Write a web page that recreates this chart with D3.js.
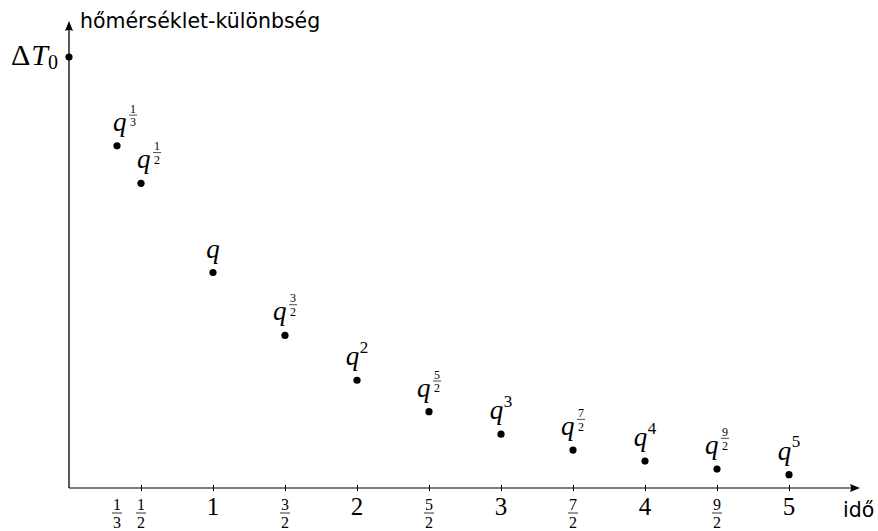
<!DOCTYPE html>
<html>
<head>
<meta charset="utf-8">
<script src="https://cdn.jsdelivr.net/npm/d3@7"></script>
<style>
  html, body { margin: 0; padding: 0; background: #fff; }
  svg { display: block; }
</style>
</head>
<body>
<svg id="chart" width="878" height="531"></svg>
<script>
// Temperature difference after each elapsed time, relative to the initial difference ΔT0
const times  = [0, 1/3, 1/2, 1, 3/2, 2, 5/2, 3, 7/2, 4, 9/2, 5];
const values = [1, 0.794, 0.707, 0.5, 0.354, 0.25, 0.177, 0.125, 0.088, 0.0625, 0.044, 0.031];
// Exponent of q written above each point ("" = plain q, null = no label)
const exponents = [null, "1/3", "1/2", "", "3/2", "2", "5/2", "3", "7/2", "4", "9/2", "5"];
// Tick marks on the time axis, and the labels written under it
const tickMarks       = [1/2, 1, 3/2, 2, 5/2, 3, 7/2, 4, 9/2, 5];
const tickLabelValues = [1/3, 1/2, 1, 3/2, 2, 5/2, 3, 7/2, 4, 9/2, 5];
const tickLabels      = ["1/3", "1/2", "1", "3/2", "2", "5/2", "3", "7/2", "4", "9/2", "5"];
const yTitle = "hőmérséklet-különbség";
const xTitle = "idő";

const SERIF = "'Liberation Serif', 'DejaVu Serif', serif";
const SANS  = "'DejaVu Sans', 'Liberation Sans', sans-serif";

const svg = d3.select("#chart");

const x = d3.scaleLinear().domain([0, 5]).range([69, 789]);
const y = d3.scaleLinear().domain([0, 1]).range([488, 57]);

const x0 = x(0), yBase = y(0);

// --- axes with arrow tips ---
const axes = svg.append("g");
axes.append("line")
  .attr("x1", x0).attr("y1", yBase).attr("x2", 853).attr("y2", yBase)
  .attr("stroke", "#000").attr("stroke-width", 1.1);
axes.append("line")
  .attr("x1", x0).attr("y1", yBase).attr("x2", x0).attr("y2", 29)
  .attr("stroke", "#000").attr("stroke-width", 1.3);

function arrowHead(tx, ty, angle) {
  axes.append("path")
    .attr("d", "M0,0 L-10,-4 Q-8,0 -10,4 Z")
    .attr("transform", `translate(${tx},${ty}) rotate(${angle})`)
    .attr("fill", "#000");
}
arrowHead(860, yBase, 0);
arrowHead(x0, 21, -90);

// tick marks crossing the time axis
const xAxis = d3.axisBottom(x).tickValues(tickMarks).tickFormat("").tickSizeOuter(0);
const gx = svg.append("g").attr("transform", `translate(0,${yBase})`).call(xAxis);
gx.select(".domain").remove();
gx.selectAll(".tick line").attr("y1", -3).attr("y2", 3).attr("stroke", "#000").attr("stroke-width", 1);

// --- tick labels (integers or stacked fractions) ---
const tl = svg.append("g").attr("font-family", SERIF).attr("fill", "#000");
tickLabelValues.forEach((v, i) => {
  const lab = tickLabels[i];
  const cx = x(v);
  if (lab.includes("/")) {
    const [n, d] = lab.split("/");
    const t = tl.append("text").attr("font-size", 16).attr("text-anchor", "middle");
    t.append("tspan").attr("x", cx).attr("y", 510).text(n);
    t.append("tspan").attr("x", cx).attr("y", 528).text(d);
    tl.append("line").attr("x1", cx - 5).attr("x2", cx + 5)
      .attr("y1", 513).attr("y2", 513).attr("stroke", "#000").attr("stroke-width", 0.8);
  } else {
    tl.append("text").attr("font-size", 25)
      .attr("x", cx).attr("y", 515).attr("text-anchor", "middle").text(lab);
  }
});

// --- axis titles ---
svg.append("text").attr("font-family", SANS).attr("font-size", 20.5)
  .attr("x", 80).attr("y", 28).text(yTitle);
svg.append("text").attr("font-family", SANS).attr("font-size", 20.5)
  .attr("x", 843).attr("y", 517).text(xTitle);

// ΔT0 beside the starting point
const dt = svg.append("text").attr("font-family", SERIF).attr("font-size", 30)
  .attr("x", 58).attr("y", 65).attr("text-anchor", "end");
dt.append("tspan").text("Δ");
dt.append("tspan").attr("font-style", "italic").attr("dx", 1).text("T");
dt.append("tspan").attr("font-size", 20).attr("dy", 4).text("0");

// --- data points ---
svg.append("g").selectAll("circle")
  .data(times.map((t, i) => ({ t, v: values[i] })))
  .join("circle")
  .attr("cx", d => x(d.t)).attr("cy", d => y(d.v)).attr("r", 3.6)
  .attr("fill", "#000");

// --- q^e labels above the points ---
// Each label is one text element: the italic q, then the exponent
// (a superscript number, or numerator/denominator with a bar between).
function drawPower(g, exp) {
  const t = g.append("text").attr("font-family", SERIF).attr("fill", "#000");
  const q = t.append("tspan").attr("font-size", 27).attr("font-style", "italic")
    .attr("x", 0).attr("y", 0).text("q");
  const w = q.node().getComputedTextLength();
  let total = w;
  if (exp.includes("/")) {
    const [n, d] = exp.split("/");
    const fx = w + 2.5, half = 4;
    t.append("tspan").attr("font-size", 12).attr("text-anchor", "middle")
      .attr("x", fx + half).attr("y", -18).text(n);
    t.append("tspan").attr("font-size", 12).attr("text-anchor", "middle")
      .attr("x", fx + half).attr("y", -4.3).text(d);
    g.append("line").attr("x1", fx).attr("x2", fx + 2 * half)
      .attr("y1", -15.7).attr("y2", -15.7).attr("stroke", "#000").attr("stroke-width", 0.7);
    total = fx + 2 * half;
  } else if (exp) {
    const s = t.append("tspan").attr("font-size", 17)
      .attr("x", w + 0.5).attr("y", -12.5).text(exp);
    total = w + 0.5 + s.node().getComputedTextLength();
  }
  return total;
}

const labels = svg.append("g");
times.forEach((t, i) => {
  const e = exponents[i];
  if (e === null) return;
  const g = labels.append("g");
  const total = drawPower(g, e);
  // early points sit close together, so their labels lean to the right
  const shift = t < 1 ? 8 : 0;
  g.attr("transform", `translate(${x(t) - total / 2 + shift},${y(values[i]) - 15})`);
});
</script>
</body>
</html>
